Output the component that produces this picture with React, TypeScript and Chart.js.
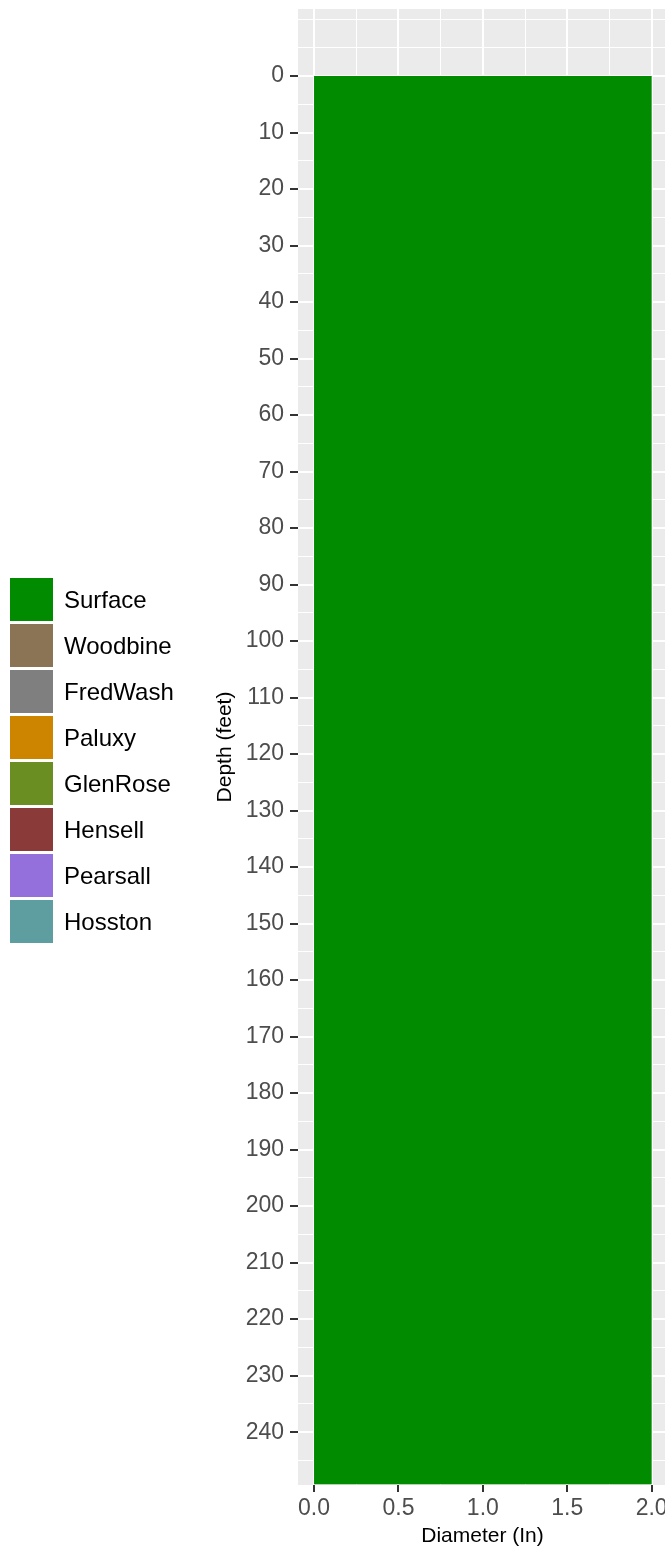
import React, { useEffect, useRef } from 'react';
import { Chart, registerables } from 'chart.js';

Chart.register(...registerables);

// ---- data ----
const formations = ['Surface', 'Woodbine', 'FredWash', 'Paluxy', 'GlenRose', 'Hensell', 'Pearsall', 'Hosston'];
const formationColors = ['#008B00', '#8B7355', '#7F7F7F', '#CD8500', '#6B8E23', '#8B3A3A', '#9370DB', '#5F9EA0'];

const layerNames = ['Surface'];
const layerTopDepth = [0];
const layerBottomDepth = [249.2];
const layerDiameter = [2.0];

const yTickLabels = [0, 10, 20, 30, 40, 50, 60, 70, 80, 90, 100, 110, 120, 130, 140, 150, 160, 170, 180, 190, 200, 210, 220, 230, 240];
const yMinorBreaks = [-10, -5, 5, 15, 25, 35, 45, 55, 65, 75, 85, 95, 105, 115, 125, 135, 145, 155, 165, 175, 185, 195, 205, 215, 225, 235, 245];
const xTickLabels = [0, 0.5, 1.0, 1.5, 2.0];
const xMinorBreaks = [0.25, 0.75, 1.25, 1.75];
const yLimits = [-11.86, 249.35];
const xLimits = [-0.095, 2.079];

const FONT = "'Liberation Sans', Arial, Helvetica, sans-serif";

const panelBg = {
  id: 'panelBg',
  beforeDraw(chart: any) {
    const { ctx, chartArea: a } = chart;
    ctx.save();
    ctx.fillStyle = '#FFFFFF';
    ctx.fillRect(0, 0, chart.width, chart.height);
    ctx.fillStyle = '#EBEBEB';
    ctx.fillRect(a.left, a.top, a.right - a.left, a.bottom - a.top);
    ctx.restore();
  },
};

const decorations = {
  id: 'decorations',
  afterDraw(chart: any) {
    const { ctx, chartArea: a } = chart;
    ctx.save();
    // legend
    const keySize = 43;
    const step = 46;
    const startY = 578;
    const keyX = 10;
    ctx.font = `24px ${FONT}`;
    ctx.textAlign = 'left';
    ctx.textBaseline = 'alphabetic';
    formations.forEach((name, i) => {
      const y = startY + i * step;
      ctx.fillStyle = formationColors[i];
      ctx.fillRect(keyX, y, keySize, keySize);
      ctx.fillStyle = '#000000';
      ctx.fillText(name, 64, y + keySize / 2 + 8.7);
    });
    // axis titles
    ctx.fillStyle = '#000000';
    ctx.font = `21px ${FONT}`;
    ctx.textAlign = 'center';
    ctx.fillText('Diameter (In)', 482.5, 1542);
    ctx.save();
    ctx.translate(231, (a.top + a.bottom) / 2);
    ctx.rotate(-Math.PI / 2);
    ctx.fillText('Depth (feet)', 0, 0);
    ctx.restore();
    ctx.restore();
  },
};

const isYMajor = (v: number) => yTickLabels.includes(v);
const isXMajor = (v: number) => xTickLabels.includes(v);

export default function App() {
  const ref = useRef<HTMLCanvasElement | null>(null);

  useEffect(() => {
    document.body.style.margin = '0';
    const canvas = ref.current;
    if (!canvas) return;

    const datasets = layerNames.map((name, i) => {
      const ci = formations.indexOf(name);
      return {
        label: name,
        data: [
          { x: 0, y: layerTopDepth[i] },
          { x: layerDiameter[i], y: layerTopDepth[i] },
          { x: layerDiameter[i], y: layerBottomDepth[i] },
          { x: 0, y: layerBottomDepth[i] },
          { x: 0, y: layerTopDepth[i] },
        ],
        showLine: true,
        fill: 'shape',
        backgroundColor: formationColors[ci],
        borderColor: formationColors[ci],
        borderWidth: 0,
        pointRadius: 0,
        tension: 0,
      };
    });

    const chart = new Chart(canvas, {
      type: 'scatter',
      data: { datasets: datasets as any },
      plugins: [panelBg, decorations],
      options: {
        animation: false,
        responsive: false,
        devicePixelRatio: 1,
        layout: { padding: { top: 9, right: 0, bottom: 0, left: 0 } },
        plugins: { legend: { display: false }, tooltip: { enabled: false } },
        scales: {
          x: {
            type: 'linear',
            position: 'bottom',
            min: xLimits[0],
            max: xLimits[1],
            border: { display: false },
            afterBuildTicks: (scale: any) => {
              scale.ticks = [...xTickLabels, ...xMinorBreaks].sort((p, q) => p - q).map((v) => ({ value: v }));
            },
            afterFit: (scale: any) => {
              scale.height = 66;
              scale.paddingLeft = 0;
              scale.paddingRight = 0;
            },
            grid: {
              color: '#FFFFFF',
              lineWidth: (c: any) => (c.tick && isXMajor(c.tick.value) ? 2 : 1),
              tickColor: (c: any) => (c.tick && isXMajor(c.tick.value) ? '#333333' : 'rgba(0,0,0,0)'),
              tickWidth: 2,
              tickLength: 7,
            },
            ticks: {
              autoSkip: false,
              maxRotation: 0,
              padding: 3,
              color: '#4D4D4D',
              font: { family: FONT, size: 23 },
              callback: (v: any) => (isXMajor(Number(v)) ? Number(v).toFixed(1) : ''),
            },
          },
          y: {
            type: 'linear',
            position: 'left',
            reverse: true,
            min: yLimits[0],
            max: yLimits[1],
            border: { display: false },
            afterBuildTicks: (scale: any) => {
              scale.ticks = [...yTickLabels, ...yMinorBreaks].sort((p, q) => p - q).map((v) => ({ value: v }));
            },
            afterFit: (scale: any) => {
              scale.width = 298;
              scale.paddingTop = 0;
              scale.paddingBottom = 0;
            },
            grid: {
              color: '#FFFFFF',
              lineWidth: (c: any) => (c.tick && isYMajor(c.tick.value) ? 2 : 1),
              tickColor: (c: any) => (c.tick && isYMajor(c.tick.value) ? '#333333' : 'rgba(0,0,0,0)'),
              tickWidth: 2,
              tickLength: 8,
            },
            ticks: {
              autoSkip: false,
              padding: 6,
              color: '#4D4D4D',
              font: { family: FONT, size: 23 },
              callback: (v: any) => (isYMajor(Number(v)) ? String(v) : ''),
            },
          },
        },
      },
    });

    return () => chart.destroy();
  }, []);

  return <canvas ref={ref} width={665} height={1551} style={{ display: 'block', width: 665, height: 1551 }} />;
}
